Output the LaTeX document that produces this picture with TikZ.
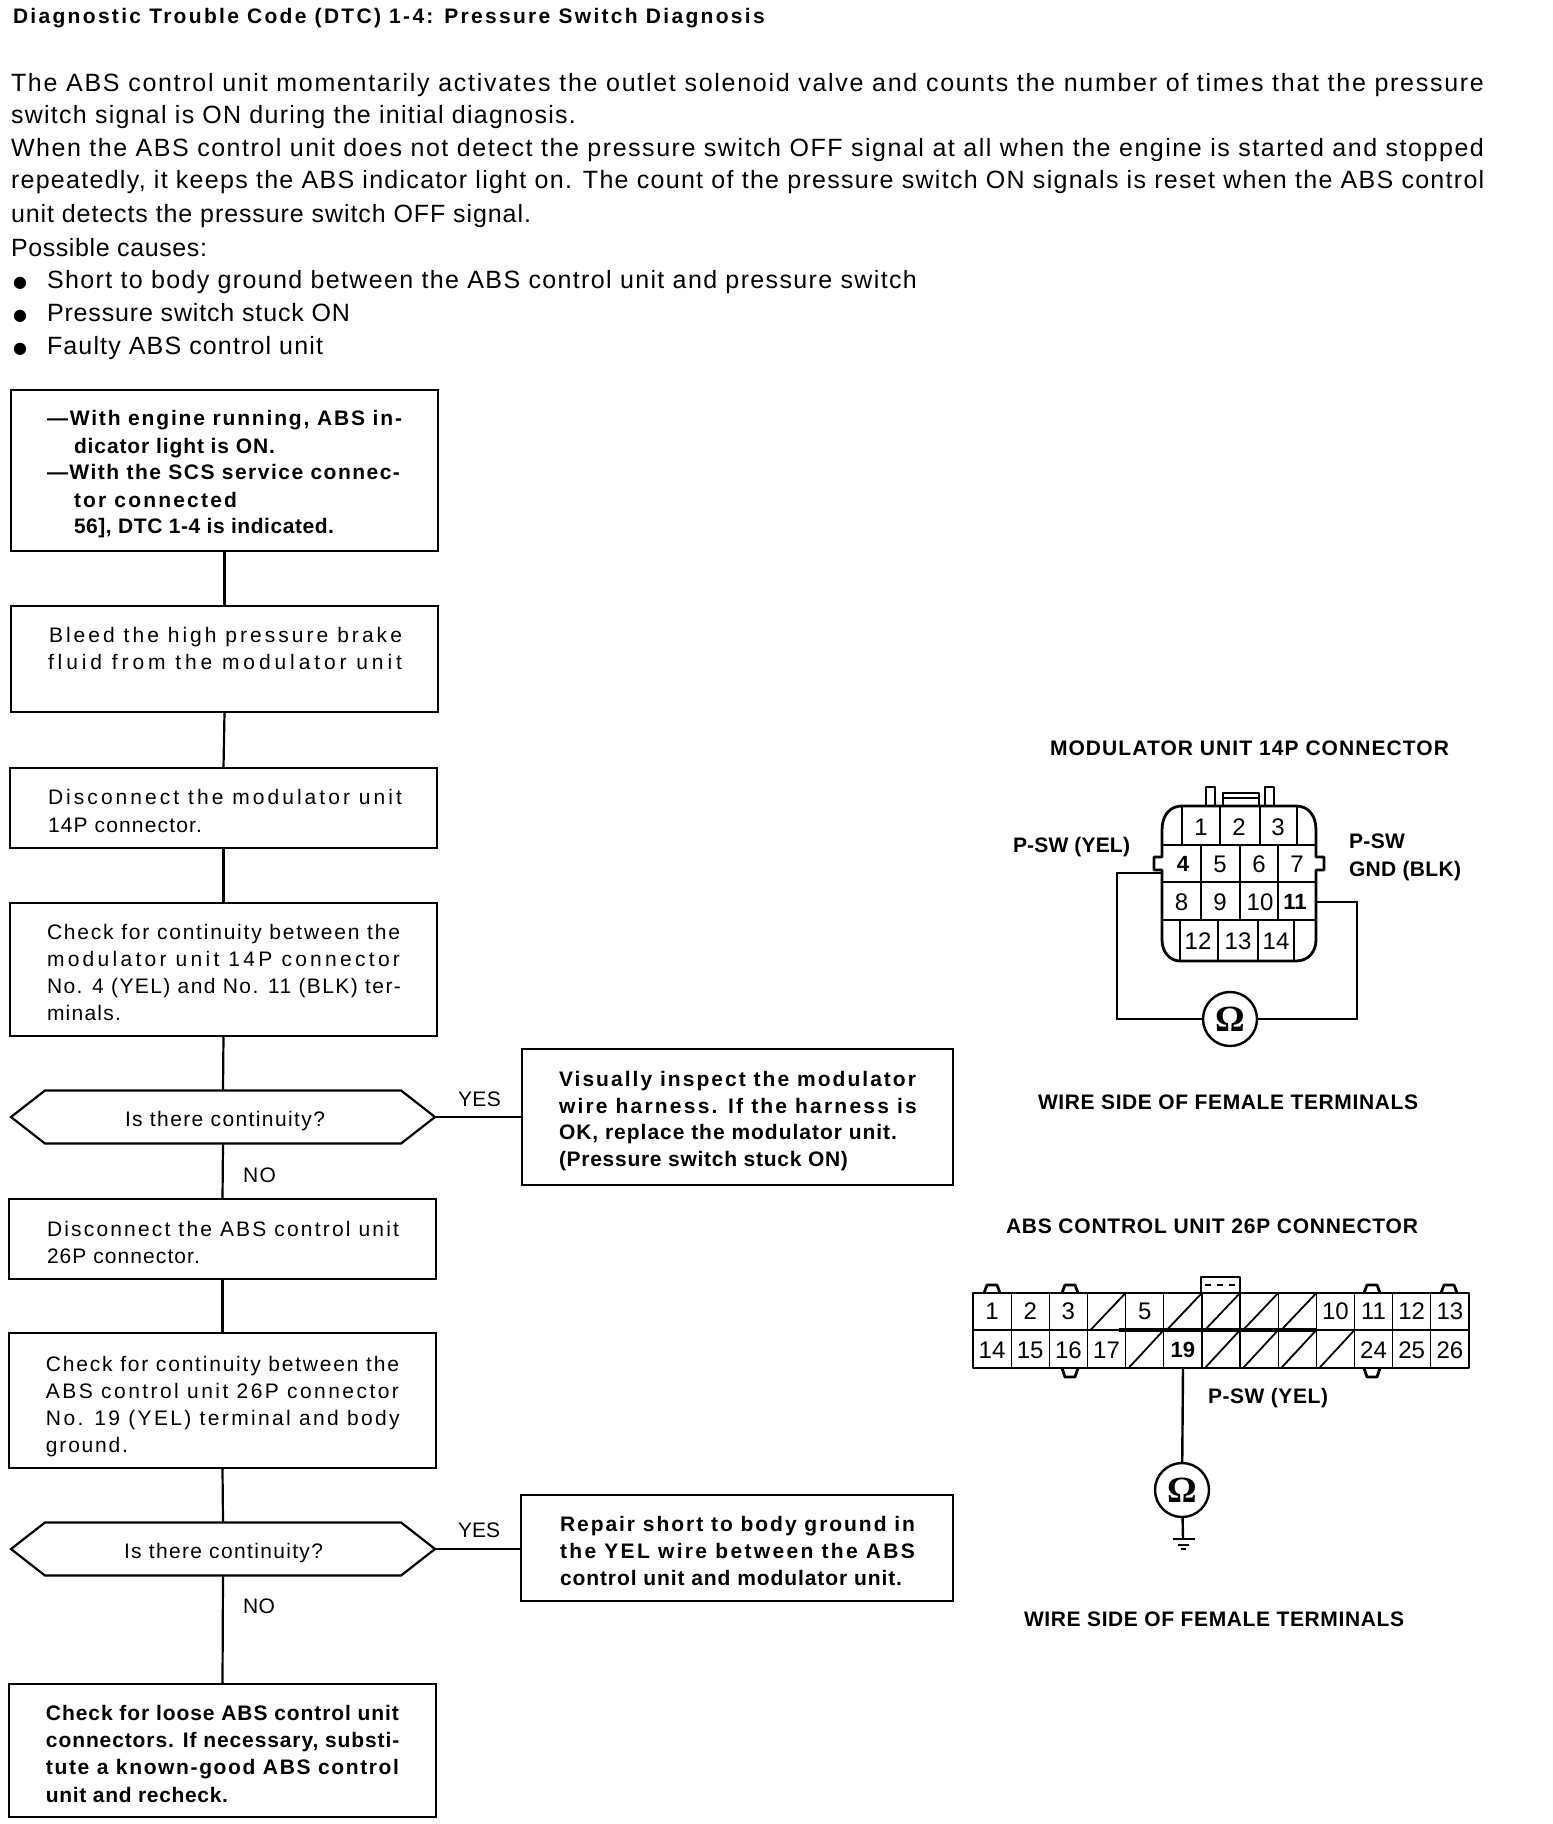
\documentclass[tikz,border=0pt]{standalone}
\usepackage{fontspec}
\usetikzlibrary{shapes.symbols}
\setmainfont{Liberation Sans}
\newfontfamily\bodyfam{Liberation Sans}
\newfontfamily\boldfam[UprightFont={* Bold}]{Liberation Sans}
\newfontfamily\omfam[UprightFont={* Bold}]{Liberation Serif}
\newfontfamily\symfam{DejaVu Sans}
\newcommand\fbody{\bodyfam\fontsize{12.5}{15}\selectfont}
\newcommand\fflow{\bodyfam\fontsize{10.5}{13}\selectfont}
\newcommand\fflowb{\boldfam\fontsize{10.5}{13}\selectfont}
\newcommand\flab{\boldfam\fontsize{10.5}{13}\selectfont}
\ExplSyntaxOn
\cs_new:Npn \charcount #1 { \tl_count:n {#1} }
\ExplSyntaxOff
\newcounter{tn}
\newcommand\fittext[2]{%
  \setbox0\hbox{#2}%
  \edef\nch{\charcount{#2}}%
  \pgfmathsetmacro\trk{((#1*0.5)-\the\wd0)/(\nch-1)/\the\dimexpr1em\relax*100}%
  \edef\doit{\noexpand\addfontfeature{LetterSpace=\trk}}\doit #2}
\newcommand\tline[5]{\stepcounter{tn}\node[txt,font=#1] (t\arabic{tn}) at (#2,#3) {\fittext{#4}{#5}};}
\newcommand\bxn[5]{\node[flowbox,minimum width={(#4-#2)*0.5pt},minimum height={(#5-#3)*0.5pt}] (#1) at ({(#2+#4)/2},{(#3+#5)/2}) {};}
\tikzset{
  x=0.5pt,y=-0.5pt,
  txt/.style={anchor=base west,inner sep=0pt,outer sep=0pt},
  blt/.style={anchor=base west,inner sep=0pt,outer sep=0pt,font=\symfam\fontsize{8}{9}\selectfont},
  flowbox/.style={draw=black,line width=1.1pt,inner sep=0pt,outer sep=0pt},
  hexa/.style={draw=black,line width=1.1pt,inner sep=0pt,outer sep=0pt,signal,signal to=west and east,signal from=nowhere,signal pointer angle=76},
  link/.style={draw=black,line width=1.1pt},
  conn/.style={draw=black,line width=1.4pt,line join=round},
  wire/.style={draw=black,line width=1.2pt},
  thinl/.style={draw=black,line width=0.9pt},
  hair/.style={draw=black,line width=0.6pt},
  dig/.style={inner sep=0pt,outer sep=0pt,font=\fontsize{12}{14}\selectfont},
  digb/.style={inner sep=0pt,outer sep=0pt,font=\bfseries\fontsize{11}{14}\selectfont},
  ohm/.style={draw=black,circle,line width=1.2pt,minimum size=27pt,inner sep=0pt,outer sep=0pt,font=\omfam\fontsize{18.5}{19}\selectfont},
}
\begin{document}
\begin{tikzpicture}
\useasboundingbox (0,0) rectangle (1552,1824);
% header text
\tline{\flab}{13}{24}{751}{Diagnostic Trouble Code (DTC) 1-4: Pressure Switch Diagnosis}
\tline{\fbody}{11}{92}{1473}{The ABS control unit momentarily activates the outlet solenoid valve and counts the number of times that the pressure}
\tline{\fbody}{11}{124}{565}{switch signal is ON during the initial diagnosis.}
\tline{\fbody}{11}{157}{1473}{When the ABS control unit does not detect the pressure switch OFF signal at all when the engine is started and stopped}
\tline{\fbody}{11}{189}{1473}{repeatedly, it keeps the ABS indicator light on. The count of the pressure switch ON signals is reset when the ABS control}
\tline{\fbody}{11}{223}{520}{unit detects the pressure switch OFF signal.}
\tline{\fbody}{11}{257}{196}{Possible causes:}
\node[blt] (blt1) at (13,288) {●};
\node[blt] (blt2) at (13,321) {●};
\node[blt] (blt3) at (13,354) {●};
\tline{\fbody}{47}{289}{870}{Short to body ground between the ABS control unit and pressure switch}
\tline{\fbody}{47}{322}{303}{Pressure switch stuck ON}
\tline{\fbody}{47}{355}{276}{Faulty ABS control unit}
% flow boxes
\bxn{b1}{11}{390}{438}{551}
\bxn{b2}{11}{606}{438}{712}
\bxn{b3}{10}{768}{437}{848}
\bxn{b4}{10}{903}{437}{1036}
\node[hexa,minimum width=212pt,minimum height=26.5pt] (d1) at (223,1117) {};
\bxn{b5}{9}{1199}{436}{1279}
\bxn{b6}{9}{1333}{436}{1468}
\node[hexa,minimum width=212pt,minimum height=26.5pt] (d2) at (223,1549) {};
\bxn{b7}{9}{1684}{436}{1817}
\bxn{y1}{522}{1049}{953}{1185}
\bxn{y2}{521}{1495}{953}{1601}
\draw[link] (b1.south) -- (b2.north);
\draw[link] (b2.south) -- (b3.north);
\draw[link] (b3.south) -- (b4.north);
\draw[link] (b4.south) -- (d1.north);
\draw[link] (d1.south) -- (b5.north);
\draw[link] (b5.south) -- (b6.north);
\draw[link] (b6.south) -- (d2.north);
\draw[link] (d2.south) -- (b7.north);
\draw[link] (d1.east) -- (d1.east -| y1.west);
\draw[link] (d2.east) -- (d2.east -| y2.west);
% flow text
\tline{\fflowb}{47}{425}{355}{—With engine running, ABS in-}
\tline{\fflowb}{74}{453}{201}{dicator light is ON.}
\tline{\fflowb}{47}{479}{353}{—With the SCS service connec-}
\tline{\fflowb}{74}{507}{163}{tor connected}
\tline{\fflowb}{74}{533}{260}{56], DTC 1-4 is indicated.}
\tline{\fflow}{49}{642}{353}{Bleed the high pressure brake}
\tline{\fflow}{48}{669}{354}{fluid from the modulator unit}
\tline{\fflow}{48}{804}{354}{Disconnect the modulator unit}
\tline{\fflow}{48}{832}{154}{14P connector.}
\tline{\fflow}{47}{939}{353}{Check for continuity between the}
\tline{\fflow}{47}{966}{353}{modulator unit 14P connector}
\tline{\fflow}{47}{993}{353}{No. 4 (YEL) and No. 11 (BLK) ter-}
\tline{\fflow}{47}{1020}{74}{minals.}
\tline{\fflow}{125}{1126}{200}{Is there continuity?}
\tline{\fflow}{458}{1106}{43}{YES}
\tline{\fflow}{243}{1182}{33}{NO}
\tline{\fflowb}{559}{1086}{357}{Visually inspect the modulator}
\tline{\fflowb}{559}{1113}{357}{wire harness. If the harness is}
\tline{\fflowb}{559}{1139}{338}{OK, replace the modulator unit.}
\tline{\fflowb}{559}{1166}{289}{(Pressure switch stuck ON)}
\tline{\fflow}{47}{1236}{352}{Disconnect the ABS control unit}
\tline{\fflow}{47}{1263}{153}{26P connector.}
\tline{\fflow}{46}{1371}{353}{Check for continuity between the}
\tline{\fflow}{46}{1398}{353}{ABS control unit 26P connector}
\tline{\fflow}{46}{1425}{353}{No. 19 (YEL) terminal and body}
\tline{\fflow}{46}{1452}{82}{ground.}
\tline{\fflow}{124}{1558}{199}{Is there continuity?}
\tline{\fflow}{458}{1537}{42}{YES}
\tline{\fflow}{243}{1613}{32}{NO}
\tline{\fflowb}{560}{1531}{355}{Repair short to body ground in}
\tline{\fflowb}{560}{1558}{355}{the YEL wire between the ABS}
\tline{\fflowb}{560}{1585}{342}{control unit and modulator unit.}
\tline{\fflowb}{46}{1720}{353}{Check for loose ABS control unit}
\tline{\fflowb}{46}{1747}{353}{connectors. If necessary, substi-}
\tline{\fflowb}{46}{1774}{353}{tute a known-good ABS control}
\tline{\fflowb}{46}{1802}{182}{unit and recheck.}
% 14P connector
\tline{\flab}{1050}{755}{399}{MODULATOR UNIT 14P CONNECTOR}
\tline{\flab}{1013}{852}{117}{P-SW (YEL)}
\tline{\flab}{1349}{848}{56}{P-SW}
\tline{\flab}{1349}{876}{112}{GND (BLK)}
\tline{\flab}{1038}{1109}{380}{WIRE SIDE OF FEMALE TERMINALS}
\draw[conn] (1162,845) -- (1162,830) .. controls (1162,815) and (1170,806) .. (1182,806) -- (1296,806) .. controls (1308,806) and (1316,815) .. (1316,830) -- (1316,857) -- (1324,857) -- (1324,870) -- (1316,870) -- (1316,940) .. controls (1316,952) and (1308,961) .. (1296,961) -- (1180,961) .. controls (1170,961) and (1162,952) .. (1162,940) -- (1162,870) -- (1154,870) -- (1154,857) -- (1162,857) -- cycle;
\draw[conn] (1206,806) -- (1206,787) -- (1215,787) -- (1215,806);
\draw[conn] (1265,806) -- (1265,787) -- (1274,787) -- (1274,806);
\draw[conn] (1223,806) -- (1223,793) -- (1259,793) -- (1259,806);
\draw[thinl] (1223,798) -- (1259,798);
\draw[conn] (1162,845) -- (1316,845);
\draw[conn] (1162,882) -- (1316,882);
\draw[conn] (1162,920) -- (1316,920);
\foreach \v in {1182,1220,1260,1297} \draw[thinl] (\v,806) -- (\v,845);
\foreach \v in {1201,1240,1278} \draw[thinl] (\v,845) -- (\v,920);
\foreach \v in {1180,1218,1258,1294} \draw[thinl] (\v,920) -- (\v,961);
\foreach \x/\y/\n in {1201/827/1,1239/827/2,1278/827/3,1220/864/5,1259/864/6,1297/864/7,1181.5/902/8,1220/902/9,1260/902/10,1198/941/12,1238/941/13,1276/941/14}
  \node[dig] (m\n) at (\x,\y) {\n};
\node[digb] (m4) at (1183,864) {4};
\node[digb] (m11) at (1295,902) {11};
\node[ohm] (om1) at (1230,1019) {Ω};
\coordinate (p4) at (1161,873);
\coordinate (p11) at (1316,902);
\coordinate (wl) at (1117,1019);
\coordinate (wr) at (1357,1019);
\draw[wire] (p4) -- (p4 -| wl) -- (wl) -- (om1);
\draw[wire] (p11) -- (p11 -| wr) -- (wr) -- (om1);
% 26P connector
\tline{\flab}{1006}{1233}{412}{ABS CONTROL UNIT 26P CONNECTOR}
\tline{\flab}{1208}{1403}{120}{P-SW (YEL)}
\tline{\flab}{1024}{1626}{380}{WIRE SIDE OF FEMALE TERMINALS}
\draw[conn] (973,1293) rectangle (1469,1368);
\draw[line width=2pt] (1119,1330) -- (1316,1330);
\draw[conn] (973,1330) -- (1469,1330);
\foreach \i in {1,...,12} {
  \draw[hair] ({973+\i*38.15},1293) -- ({973+\i*38.15},1368);
}
\foreach \i in {4,6,7,8,9} \draw[thinl] ({973+(\i-1)*38.15+3},1330) -- ({973+\i*38.15},1293);
\foreach \i in {5,7,8,9,10} \draw[thinl] ({973+(\i-1)*38.15+3},1368) -- ({973+\i*38.15},1330);
\foreach \a in {987,1065,1367,1444} \draw[conn] (\a-3,1293) -- (\a,1285) -- (\a+10,1285) -- (\a+13,1293);
\foreach \a in {1065,1367} \draw[conn] (\a-3,1368) -- (\a,1377) -- (\a+10,1377) -- (\a+13,1368);
\draw[conn] (1201,1293) -- (1201,1277) -- (1240,1277) -- (1240,1293);
\draw[thinl,dashed] (1205,1285) -- (1236,1285);
\foreach \i/\n in {1/1,2/2,3/3,5/5,10/10,11/11,12/12,13/13}
  \node[dig] (c\n) at ({973+(\i-0.5)*38.15},1311) {\n};
\foreach \i/\n in {1/14,2/15,3/16,4/17,11/24,12/25,13/26}
  \node[dig] (c\n) at ({973+(\i-0.5)*38.15},1350) {\n};
\node[digb] (c19) at ({973+5.5*38.15},1350) {19};
\node[ohm] (om2) at (1182,1490) {Ω};
\coordinate (p19) at (1183,1368);
\coordinate (gnd) at (1183,1539);
\draw[wire] (p19) -- (om2);
\draw[wire] (om2) -- (gnd);
\draw[wire] (1173,1539) -- (1195,1539);
\draw[wire] (1178,1545) -- (1189,1545);
\draw[wire] (1181,1549) -- (1186,1549);
\end{tikzpicture}
\end{document}
